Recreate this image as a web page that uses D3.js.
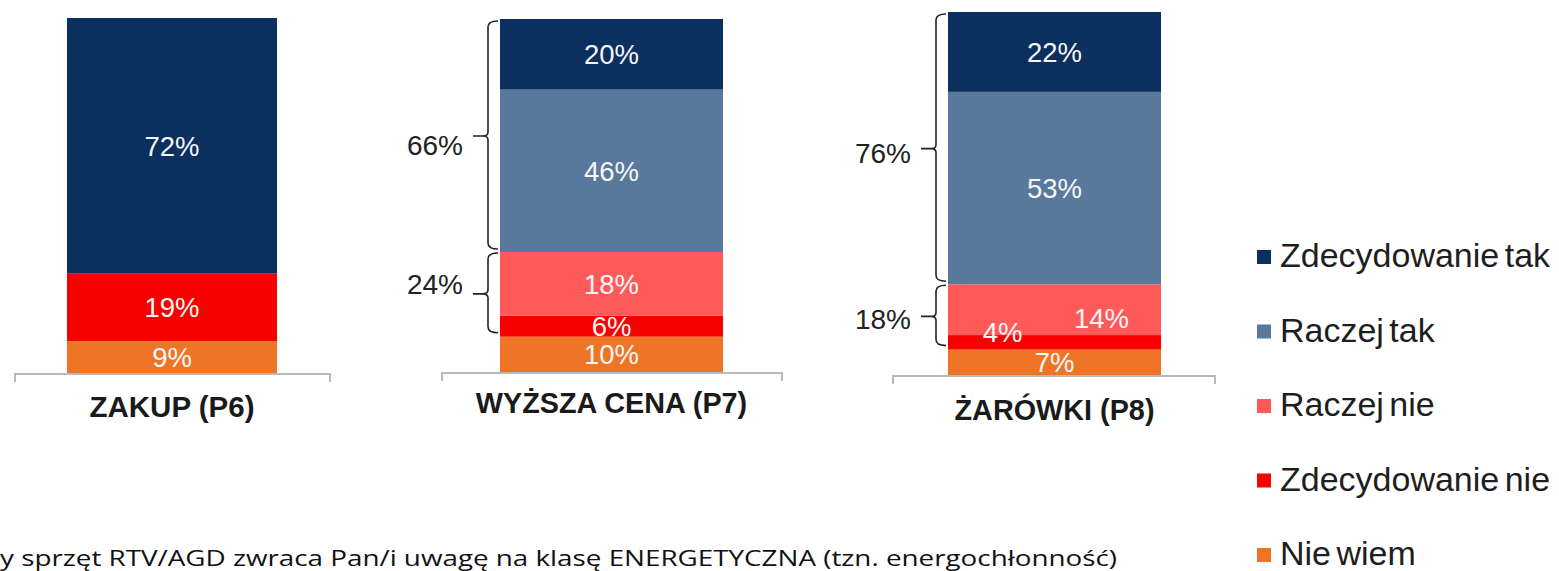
<!DOCTYPE html>
<html>
<head>
<meta charset="utf-8">
<script src="https://cdn.jsdelivr.net/npm/d3@7"></script>
<style>
  body { margin: 0; background: #fff; }
  svg { display: block; font-family: "Liberation Sans", Arial, sans-serif; }
</style>
</head>
<body>
<svg id="chart" width="1559" height="571"></svg>
<script>
// data
const categories = ["ZAKUP (P6)", "WYŻSZA CENA (P7)", "ŻARÓWKI (P8)"];
const seriesNames = ["Zdecydowanie tak", "Raczej tak", "Raczej nie", "Zdecydowanie nie", "Nie wiem"];
const zdecydowanieTak = [72, 20, 22];
const raczejTak = [0, 46, 53];
const raczejNie = [0, 18, 14];
const zdecydowanieNie = [19, 6, 4];
const nieWiem = [9, 10, 7];
const sumaTak = [null, 66, 76];
const sumaNie = [null, 24, 18];
const question = "y sprzęt RTV/AGD zwraca Pan/i uwagę na klasę ENERGETYCZNA (tzn. energochłonność)";

const colors = {
    "Zdecydowanie tak": "#0b2f5e",
    "Raczej tak": "#58799b",
    "Raczej nie": "#ff5a5a",
    "Zdecydowanie nie": "#f80000",
    "Nie wiem": "#ef7526"
};

// each small chart was pasted separately, so each has its own frame
const panels = [
    { x0: 67, x1: 277, top: 18, bottom: 373, axisX0: 15, axisX1: 330, axisY: 374, labelY: 417, labelSize: 29.5 },
    { x0: 500, x1: 723, top: 19, bottom: 372, axisX0: 442, axisX1: 782, axisY: 373, labelY: 413, labelSize: 28.8 },
    { x0: 948, x1: 1161, top: 12, bottom: 375, axisX0: 893, axisX1: 1215, axisY: 376, labelY: 420, labelSize: 28.8 }
];
// label nudges (ŻARÓWKI has its small labels pushed aside)
const labelShift = { "2|Raczej nie": [47, 8], "2|Zdecydowanie nie": [-52, -10] };
const bracketTextShift = [null, { tak: 9, nie: -10 }, { tak: 4, nie: 2 }];

const rows = categories.map((c, i) => ({
    category: c,
    "Zdecydowanie tak": zdecydowanieTak[i],
    "Raczej tak": raczejTak[i],
    "Raczej nie": raczejNie[i],
    "Zdecydowanie nie": zdecydowanieNie[i],
    "Nie wiem": nieWiem[i]
}));

const stack = d3.stack().keys(seriesNames.slice().reverse());
const layers = stack(rows);

const svg = d3.select("#chart");

panels.forEach((p, i) => {
    const y = d3.scaleLinear().domain([0, 100]).range([p.bottom, p.top]);
    const g = svg.append("g");
    const cx = (p.x0 + p.x1) / 2;

    // axis baseline with end ticks
    g.append("path")
        .attr("d", `M${p.axisX0},${p.axisY + 8}V${p.axisY}H${p.axisX1}V${p.axisY + 8}`)
        .attr("fill", "none")
        .attr("stroke", "#b9b9b9")
        .attr("stroke-width", 2);

    const segs = layers.map(l => ({ key: l.key, y0: l[i][0], y1: l[i][1] }))
        .filter(s => s.y1 - s.y0 > 0);

    g.selectAll("rect").data(segs).enter().append("rect")
        .attr("x", p.x0)
        .attr("width", p.x1 - p.x0)
        .attr("y", d => y(d.y1))
        .attr("height", d => y(d.y0) - y(d.y1))
        .attr("fill", d => colors[d.key]);

    g.selectAll("text.val").data(segs).enter().append("text")
        .attr("class", "val")
        .attr("x", d => cx + (labelShift[i + "|" + d.key] || [0, 0])[0])
        .attr("y", d => (y(d.y0) + y(d.y1)) / 2 + (labelShift[i + "|" + d.key] || [0, 0])[1])
        .attr("dy", "0.36em")
        .attr("text-anchor", "middle")
        .attr("font-size", 27.5)
        .attr("fill", "#f6f6f6")
        .text(d => (d.y1 - d.y0) + "%");

    g.append("text")
        .attr("x", cx)
        .attr("y", p.labelY)
        .attr("text-anchor", "middle")
        .attr("font-size", p.labelSize)
        .attr("font-weight", "bold")
        .attr("fill", "#1a1a1a")
        .text(categories[i]);

    // braces for the grouped totals
    if (sumaTak[i] != null) {
        const bx = p.x0 - 12;
        const nieTop = nieWiem[i] + zdecydowanieNie[i] + raczejNie[i];
        const groups = [
            { t: y(100) + 2, b: y(nieTop) - 3, value: sumaTak[i], shift: bracketTextShift[i].tak },
            { t: y(nieTop) + 1, b: y(nieWiem[i]) - 4, value: sumaNie[i], shift: bracketTextShift[i].nie }
        ];
        groups.forEach(gr => {
            const m = (gr.t + gr.b) / 2 + 1;
            g.append("path")
                .attr("d", `M${bx + 10},${gr.t}Q${bx},${gr.t} ${bx},${gr.t + 6}V${m - 4}Q${bx},${m} ${bx - 5},${m}H${bx - 15}` +
                    `M${bx - 5},${m}Q${bx},${m} ${bx},${m + 4}V${gr.b - 6}Q${bx},${gr.b} ${bx + 10},${gr.b}`)
                .attr("fill", "none")
                .attr("stroke", "#222")
                .attr("stroke-width", 1.6);
            g.append("text")
                .attr("x", bx - 25)
                .attr("y", m + gr.shift)
                .attr("dy", "0.36em")
                .attr("text-anchor", "end")
                .attr("font-size", 28)
                .attr("fill", "#222")
                .text(gr.value + "%");
        });
    }
});

// legend
const legend = svg.append("g").selectAll("g").data(seriesNames).enter().append("g")
    .attr("transform", (d, k) => `translate(1257,${267 + 74.5 * k})`);
legend.append("rect")
    .attr("y", -17)
    .attr("width", 14)
    .attr("height", 14)
    .attr("fill", d => colors[d]);
legend.append("text")
    .attr("x", 23)
    .attr("font-size", 34)
    .attr("fill", "#1e1e1e")
    .attr("word-spacing", -4)
    .text(d => d);

// question text, its start cut off by the picture edge
svg.append("text")
    .attr("x", 0)
    .attr("y", 566)
    .attr("font-family", "'Open Sans', sans-serif")
    .attr("font-size", 22)
    .attr("fill", "#111")
    .attr("textLength", 1117)
    .attr("lengthAdjust", "spacingAndGlyphs")
    .text(question);
</script>
</body>
</html>
